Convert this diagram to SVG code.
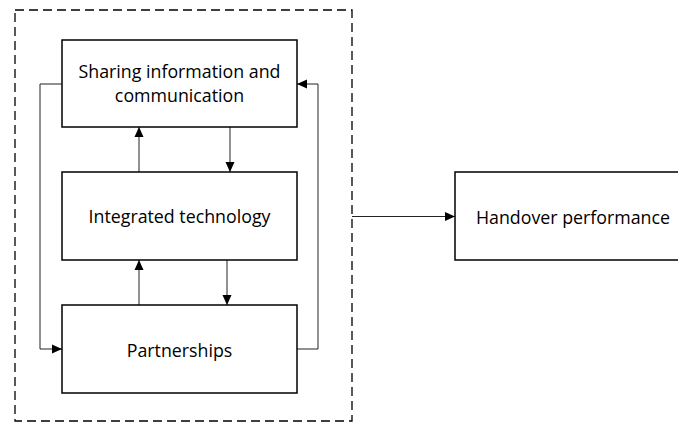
<svg xmlns="http://www.w3.org/2000/svg" width="678" height="423" viewBox="0 0 678 423">
<style>
.box{fill:#fff;stroke:#000;stroke-width:1.5}
.dash{fill:none;stroke:#000;stroke-width:1.3;stroke-dasharray:9,5}
.c{fill:none;stroke:#222;stroke-width:1}
text{font-family:"Open Sans","Liberation Sans",sans-serif;font-size:17.8px;fill:#000;text-anchor:middle}
</style>
<defs>
<marker id="a" markerWidth="10" markerHeight="10" refX="10" refY="5" orient="auto" markerUnits="userSpaceOnUse">
<path d="M0,0.5 L10,5 L0,9.5 Z" fill="#000"/>
</marker>
</defs>
<rect width="678" height="423" fill="#fff"/>
<g id="group"><rect class="dash" x="15" y="10" width="337" height="411"/></g>
<g id="connectors">
<polyline class="c" points="62,84 40,84 40,349 62,349" marker-end="url(#a)"/>
<polyline class="c" points="297,349 318,349 318,84 297,84" marker-end="url(#a)"/>
<line class="c" x1="139" y1="172" x2="139" y2="127" marker-end="url(#a)"/>
<line class="c" x1="230" y1="127" x2="230" y2="172" marker-end="url(#a)"/>
<line class="c" x1="139" y1="305" x2="139" y2="260" marker-end="url(#a)"/>
<line class="c" x1="227" y1="260" x2="227" y2="305" marker-end="url(#a)"/>
<line class="c" x1="352" y1="216.5" x2="455" y2="216.5" marker-end="url(#a)"/>
</g>
<g id="sharing"><rect class="box" x="62" y="40" width="235" height="87"/><text x="179.5" y="78">Sharing information and</text><text x="179.5" y="102">communication</text></g>
<g id="tech"><rect class="box" x="62" y="172" width="235" height="88"/><text x="179.5" y="223">Integrated technology</text></g>
<g id="partnerships"><rect class="box" x="62" y="305" width="235" height="88"/><text x="179.5" y="357">Partnerships</text></g>
<g id="handover"><rect class="box" x="455" y="172" width="240" height="88"/><text x="573" y="224">Handover performance</text></g>
</svg>
